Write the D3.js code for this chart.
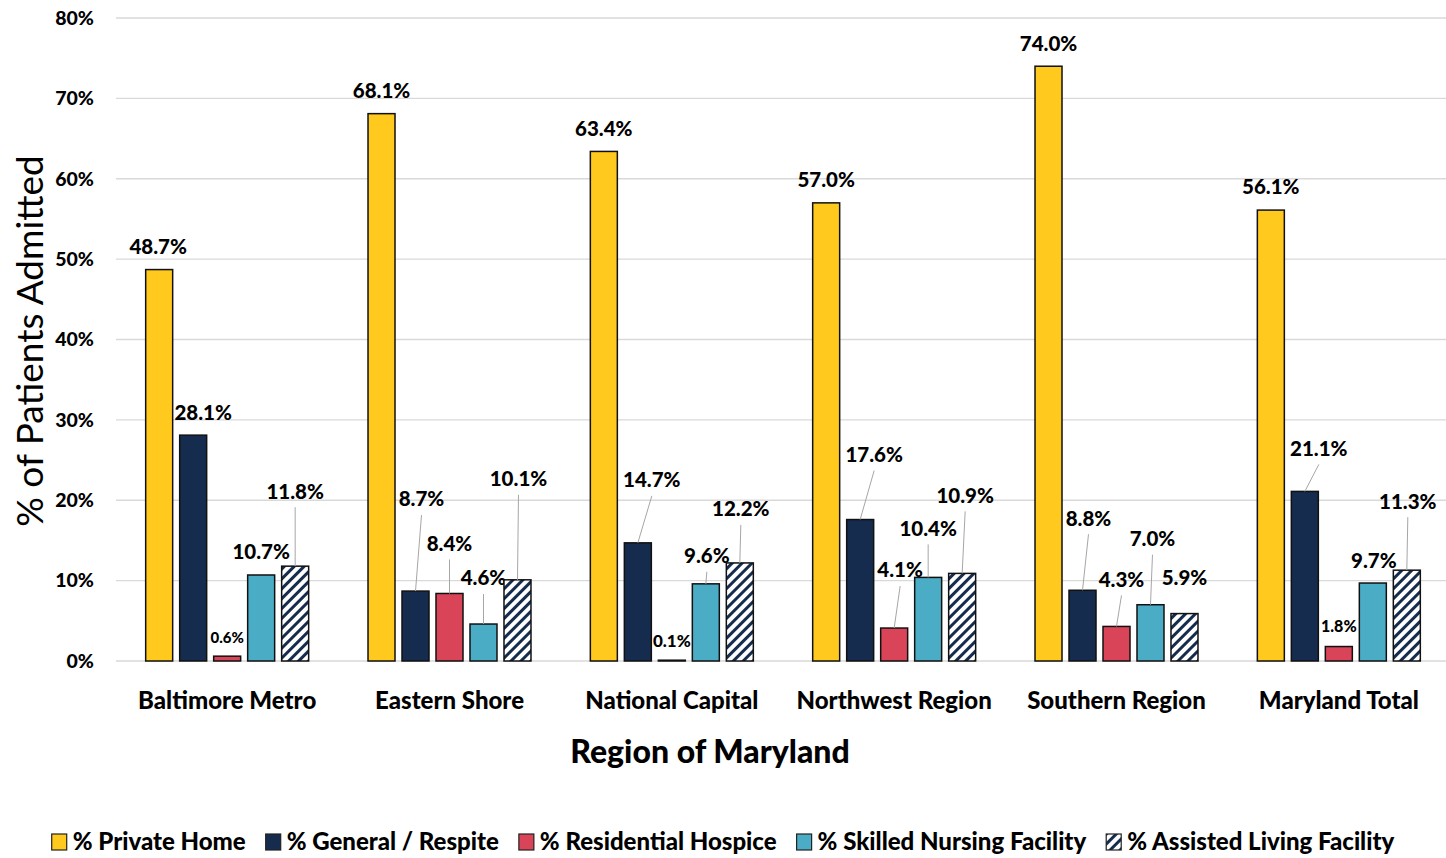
<!DOCTYPE html>
<html>
<head>
<meta charset="utf-8">
<script src="https://cdn.jsdelivr.net/npm/d3@7"></script>
<style>
  body { margin: 0; background: #fff; }
  svg { display: block; font-family: Lato, "Open Sans", sans-serif; }
</style>
</head>
<body>
<svg id="chart" width="1446" height="858"></svg>
<script>
// data
var regions = ["Baltimore Metro", "Eastern Shore", "National Capital", "Northwest Region", "Southern Region", "Maryland Total"];
var seriesNames = ["% Private Home", "% General / Respite", "% Residential Hospice", "% Skilled Nursing Facility", "% Assisted Living Facility"];
var privateHome = [48.7, 68.1, 63.4, 57.0, 74.0, 56.1];
var generalRespite = [28.1, 8.7, 14.7, 17.6, 8.8, 21.1];
var residentialHospice = [0.6, 8.4, 0.1, 4.1, 4.3, 1.8];
var skilledNursing = [10.7, 4.6, 9.6, 10.4, 7.0, 9.7];
var assistedLiving = [11.8, 10.1, 12.2, 10.9, 5.9, 11.3];
var yTicks = [0, 10, 20, 30, 40, 50, 60, 70, 80];

var seriesValues = [privateHome, generalRespite, residentialHospice, skilledNursing, assistedLiving];
var colors = ["#FFC91E", "#152C4E", "#D94459", "#4BACC6", "url(#hatch)"];

// label nudges [dx, dy from bar top, leader line?]
var labelNudge = [
  [[-1, -23, 0], [0, -23, 0], [0, -23, 0], [0, -23, 0], [0, -23, 0], [0, -23, 0]],
  [[10, -23, 0], [6, -92, 1], [14, -63, 1], [14, -65, 1], [6, -72, 1], [14, -43, 1]],
  [[0, -19, 0], [0, -50, 1], [0, -19, 0], [6, -58, 1], [5, -47, 1], [0, -20, 0]],
  [[0, -23, 0], [0, -46, 1], [1, -28, 1], [0, -49, 1], [2, -66, 1], [1, -22, 0]],
  [[0, -75, 1], [1, -101, 1], [1, -54, 1], [3, -78, 1], [0, -36, 0], [1, -69, 1]]
];
var smallLabelSize = { "0.6": 15, "0.1": 17, "1.8": 16 };

var margin = { top: 18, left: 116 },
    plotRight = 1450,
    plotBottom = 661;
var heavy = 900;

var svg = d3.select("#chart");

var defs = svg.append("defs");
var pat = defs.append("pattern")
  .attr("id", "hatch")
  .attr("patternUnits", "userSpaceOnUse")
  .attr("width", 7)
  .attr("height", 7)
  .attr("patternTransform", "rotate(45)");
pat.append("rect").attr("width", 7).attr("height", 7).attr("fill", "#fff");
pat.append("rect").attr("width", 3).attr("height", 7).attr("fill", "#152C4E");

var x0 = d3.scaleBand().domain(regions).range([margin.left, plotRight]).padding(0);
var x1 = d3.scaleBand().domain(d3.range(5)).range([0, x0.bandwidth()])
  .paddingInner(0.206).paddingOuter(0.873);
var y = d3.scaleLinear().domain([0, 80]).range([plotBottom, margin.top]);

// gridlines
svg.append("g")
  .selectAll("line")
  .data(yTicks)
  .join("line")
  .attr("x1", margin.left)
  .attr("x2", plotRight)
  .attr("y1", function(d) { return y(d); })
  .attr("y2", function(d) { return y(d); })
  .attr("stroke", "#d9d9d9")
  .attr("stroke-width", 1.3);

// y axis
var yAxis = svg.append("g")
  .attr("transform", "translate(" + (margin.left - 22) + ",0)")
  .call(d3.axisLeft(y).tickValues(yTicks).tickSize(0).tickPadding(0)
    .tickFormat(function(d) { return d + "%"; }));
yAxis.select(".domain").remove();
yAxis.selectAll("text")
  .attr("font-family", "Lato, sans-serif")
  .attr("font-size", 19.5)
  .attr("font-weight", heavy)
  .attr("fill", "#000");

// x axis labels
var xAxis = svg.append("g")
  .attr("transform", "translate(0," + plotBottom + ")")
  .call(d3.axisBottom(x0).tickSize(0).tickPadding(0));
xAxis.select(".domain").remove();
xAxis.selectAll("text")
  .attr("y", 40)
  .attr("dy", "0.35em")
  .attr("font-family", "Lato, sans-serif")
  .attr("font-size", 24)
  .attr("font-weight", heavy)
  .attr("fill", "#000");

// bars
var groups = svg.append("g")
  .selectAll("g")
  .data(regions)
  .join("g")
  .attr("transform", function(d) { return "translate(" + x0(d) + ",0)"; });

groups.each(function(region, ri) {
  var g = d3.select(this);
  seriesValues.forEach(function(vals, si) {
    var v = vals[ri];
    var bx = x1(si), bw = x1.bandwidth();
    g.append("rect")
      .attr("x", bx)
      .attr("y", y(v))
      .attr("width", bw)
      .attr("height", plotBottom - y(v))
      .attr("fill", colors[si])
      .attr("stroke", "#111")
      .attr("stroke-width", 1.5);

    var nudge = labelNudge[si][ri];
    var cx = bx + bw / 2;
    var lx = cx + nudge[0];
    var ly = y(v) + nudge[1];
    if (nudge[2]) {
      g.append("line")
        .attr("x1", cx)
        .attr("y1", y(v))
        .attr("x2", lx)
        .attr("y2", ly + 16)
        .attr("stroke", "#a6a6a6")
        .attr("stroke-width", 1);
    }
    var txt = v.toFixed(1);
    g.append("text")
      .attr("x", lx)
      .attr("y", ly)
      .attr("dy", "0.36em")
      .attr("text-anchor", "middle")
      .attr("font-size", smallLabelSize[txt] || 20.5)
      .attr("font-weight", heavy)
      .attr("fill", "#000")
      .text(txt + "%");
  });
});

// axis titles
svg.append("text")
  .attr("transform", "translate(30," + 341 + ") rotate(-90)")
  .attr("dy", "0.35em")
  .attr("text-anchor", "middle")
  .attr("font-size", 37)
  .attr("fill", "#000")
  .text("% of Patients Admitted");

svg.append("text")
  .attr("x", 710)
  .attr("y", 752)
  .attr("dy", "0.35em")
  .attr("text-anchor", "middle")
  .attr("font-size", 32)
  .attr("font-weight", heavy)
  .attr("fill", "#000")
  .text("Region of Maryland");

// legend
var legend = svg.append("g");
var lx = 0;
seriesNames.forEach(function(name, i) {
  var item = legend.append("g").attr("transform", "translate(" + lx + ",0)");
  item.append("rect")
    .attr("x", 0)
    .attr("y", -8)
    .attr("width", 15)
    .attr("height", 16)
    .attr("fill", colors[i])
    .attr("stroke", "#222")
    .attr("stroke-width", 1.2);
  var t = item.append("text")
    .attr("x", 21)
    .attr("dy", "0.35em")
    .attr("font-size", 24)
    .attr("font-weight", heavy)
    .attr("fill", "#000")
    .text(name);
  lx += 21 + t.node().getComputedTextLength() + 20;
});
lx -= 20;
legend.attr("transform", "translate(" + (723 - lx / 2) + ",842)");
</script>
</body>
</html>
